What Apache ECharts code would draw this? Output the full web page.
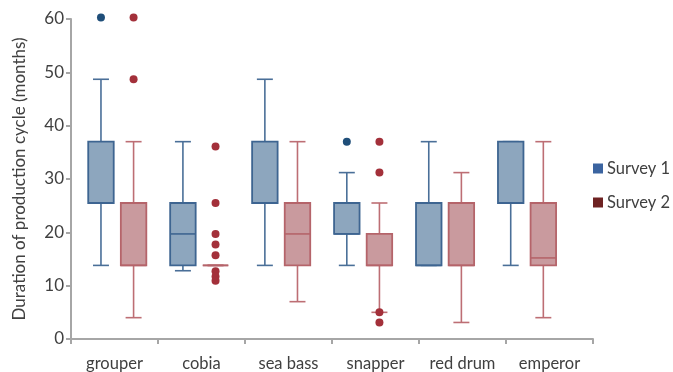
<!DOCTYPE html>
<html><head><meta charset="utf-8">
<script src="https://cdn.jsdelivr.net/npm/echarts@6/dist/echarts.min.js"></script>
<style>html,body{margin:0;padding:0;background:#fff}#c{width:673px;height:372px}</style>
</head><body><div id="c"></div>
<script>
const categories = ['grouper', 'cobia', 'sea bass', 'snapper', 'red drum', 'emperor'];
const yTicks = [0, 10, 20, 30, 40, 50, 60];
const seriesNames = ['Survey 1', 'Survey 2'];
// [min, q1, median, q3, max] per category
const survey1Box = [
  [13.8, 25.5, 25.5, 37, 48.7],
  [12.8, 13.8, 19.7, 25.5, 37],
  [13.8, 25.5, 25.5, 37, 48.7],
  [13.8, 19.7, 19.7, 25.5, 31.2],
  [13.8, 13.8, 13.8, 25.5, 37],
  [13.8, 25.5, 25.5, 37, 37]
];
const survey2Box = [
  [4, 13.8, 13.8, 25.5, 37],
  [13.8, 13.8, 13.8, 13.8, 13.8],
  [7, 13.8, 19.7, 25.5, 37],
  [5, 13.8, 13.8, 19.7, 25.5],
  [3.1, 13.8, 13.8, 25.5, 31.2],
  [4, 13.8, 15.2, 25.5, 37]
];
// [category index, value]
const survey1Outliers = [[0, 60.3], [3, 37]];
const survey2Outliers = [[0, 60.3], [0, 48.7], [1, 36.1], [1, 25.5], [1, 19.7], [1, 17.7], [1, 15.7], [1, 12.7], [1, 11.7], [1, 10.9], [3, 37], [3, 31.2], [3, 5], [3, 3.1]];

const FONT = 'Lato';
const TXT = '#404040';
const AX = '#a6a6a6';

function makeRender(offFrac, stroke, fill, wStroke) {
  return function (params, api) {
    const i = api.value(0);
    const lo = api.value(1), q1 = api.value(2), med = api.value(3), q3 = api.value(4), hi = api.value(5);
    const band = api.size([1, 0])[0];
    const cx = api.coord([i, q1])[0] + offFrac * band;
    const bw = band * 0.311, cw = band * 0.195;
    const y = v => api.coord([i, v])[1];
    const ln = (x1, y1, x2, y2, c) => ({ type: 'line', shape: { x1, y1, x2, y2 }, style: { stroke: c, lineWidth: 1.6 } });
    const ch = [];
    ch.push(ln(cx, y(hi), cx, y(q3), wStroke));
    ch.push(ln(cx, y(lo), cx, y(q1), wStroke));
    ch.push(ln(cx - cw / 2, y(hi), cx + cw / 2, y(hi), wStroke));
    ch.push(ln(cx - cw / 2, y(lo), cx + cw / 2, y(lo), wStroke));
    ch.push({ type: 'rect', shape: { x: cx - bw / 2, y: y(q3), width: bw, height: y(q1) - y(q3) }, style: { fill: fill, stroke: stroke, lineWidth: 1.8 } });
    ch.push(ln(cx - bw / 2, y(med), cx + bw / 2, y(med), stroke));
    return { type: 'group', children: ch };
  };
}

const chart = echarts.init(document.getElementById('c'), null, { renderer: 'canvas' });
const hiddenAxis = { type: 'category', data: categories, show: false, gridIndex: 1 };
chart.setOption({
  animation: false,
  backgroundColor: '#fff',
  grid: [
    { left: 71, right: 80, top: 19, bottom: 33 },
    { left: 76.3, width: 491.7, top: 19, bottom: 33 }
  ],
  legend: {
    orient: 'vertical', left: 588, top: 155, itemWidth: 10, itemHeight: 10, itemGap: 17,
    icon: 'rect',
    textStyle: { fontFamily: FONT, fontSize: 16.5, color: TXT, padding: [0, 0, 0, -1] },
    data: [
      { name: seriesNames[0], itemStyle: { color: '#3b64a0' } },
      { name: seriesNames[1], itemStyle: { color: '#6e2222' } }
    ]
  },
  xAxis: [
    {
      type: 'category', data: categories, gridIndex: 0,
      axisLine: { lineStyle: { color: AX, width: 2 } },
      axisTick: { show: true, length: 5, lineStyle: { color: AX, width: 2 } },
      axisLabel: { interval: 0, fontFamily: FONT, fontSize: 16.5, color: TXT, margin: 16 }
    },
    hiddenAxis
  ],
  yAxis: [
    {
      type: 'value', min: 0, max: 60, interval: 10, gridIndex: 0,
      name: 'Duration of production cycle (months)', nameLocation: 'middle', nameGap: 43,
      nameTextStyle: { fontFamily: FONT, fontSize: 17, color: TXT },
      axisLine: { show: true, lineStyle: { color: AX, width: 2 } },
      axisTick: { show: true, length: 5, lineStyle: { color: AX, width: 2 } },
      axisLabel: { fontFamily: FONT, fontSize: 17, color: TXT, margin: 7, formatter: v => yTicks.includes(v) ? String(v) : '' },
      splitLine: { show: false }
    },
    { type: 'value', min: 0, max: 60, interval: 10, gridIndex: 1, show: false, splitLine: { show: false } }
  ],
  series: [
    {
      name: seriesNames[0], type: 'custom', xAxisIndex: 1, yAxisIndex: 1,
      itemStyle: { color: '#3b64a0' },
      renderItem: makeRender(-0.199, '#3e6591', '#8da6be', '#4a6f98'),
      encode: { x: 0, y: [1, 2, 3, 4, 5] },
      data: survey1Box.map((b, i) => [i].concat(b)), z: 2
    },
    {
      name: seriesNames[1], type: 'custom', xAxisIndex: 1, yAxisIndex: 1,
      itemStyle: { color: '#6e2222' },
      renderItem: makeRender(0.199, '#b5646a', '#c99a9e', '#bd6e74'),
      encode: { x: 0, y: [1, 2, 3, 4, 5] },
      data: survey2Box.map((b, i) => [i].concat(b)), z: 2
    },
    {
      name: seriesNames[0], type: 'custom', xAxisIndex: 1, yAxisIndex: 1, z: 3,
      renderItem: function (params, api) {
        const p = api.coord([api.value(0), api.value(1)]);
        const band = api.size([1, 0])[0];
        return { type: 'circle', shape: { cx: p[0] - 0.199 * band, cy: p[1], r: 4 }, style: { fill: '#1f4e79' } };
      },
      data: survey1Outliers
    },
    {
      name: seriesNames[1], type: 'custom', xAxisIndex: 1, yAxisIndex: 1, z: 3,
      renderItem: function (params, api) {
        const p = api.coord([api.value(0), api.value(1)]);
        const band = api.size([1, 0])[0];
        return { type: 'circle', shape: { cx: p[0] + 0.199 * band, cy: p[1], r: 4 }, style: { fill: '#a3303a' } };
      },
      data: survey2Outliers
    }
  ]
});
</script>
</body></html>
